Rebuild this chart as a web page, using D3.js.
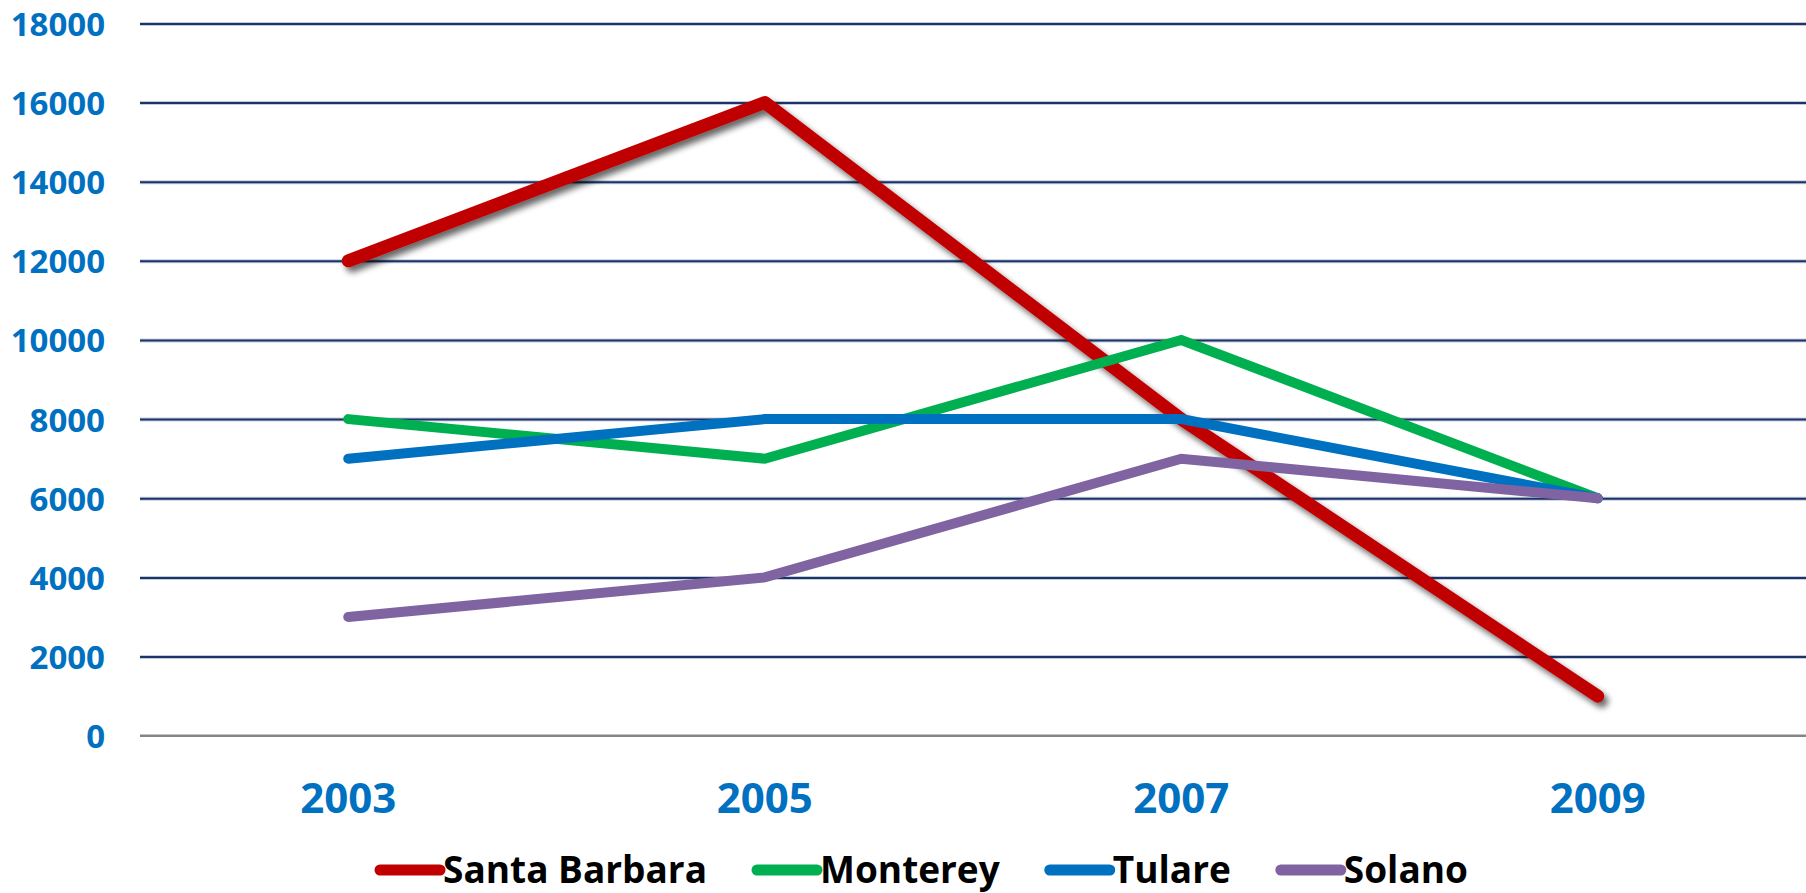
<!DOCTYPE html>
<html>
<head>
<meta charset="utf-8">
<script src="https://cdn.jsdelivr.net/npm/d3@7"></script>
<style>
  html, body { margin: 0; padding: 0; background: #fff; }
  svg { display: block; }
  text { font-family: "Open Sans", sans-serif; font-weight: 700; }
</style>
</head>
<body>
<svg id="chart" width="1806" height="893"></svg>
<script>
// ---- data ----
const years = ["2003", "2005", "2007", "2009"];
const seriesNames = ["Santa Barbara", "Monterey", "Tulare", "Solano"];
const santaBarbara = [12000, 16000, 8000, 1000];
const monterey = [8000, 7000, 10000, 6000];
const tulare = [7000, 8000, 8000, 6000];
const solano = [3000, 4000, 7000, 6000];
const yTicks = [0, 2000, 4000, 6000, 8000, 10000, 12000, 14000, 16000, 18000];
const seriesColors = ["#C00000", "#00B050", "#0070C0", "#8064A2"];

const seriesValues = [santaBarbara, monterey, tulare, solano];
const series = seriesNames.map((name, i) => ({ name, color: seriesColors[i], values: seriesValues[i], width: i === 0 ? 13 : 10 }));

// ---- layout ----
const svg = d3.select("#chart");
const plot = { left: 140, right: 1806, top: 23.4, bottom: 735.7 };

const x = d3.scaleBand().domain(years).range([plot.left, plot.right]).padding(0);
const y = d3.scaleLinear().domain([0, 18000]).range([plot.bottom, plot.top]);
const cx = d => x(d) + x.bandwidth() / 2;

// shadow filter
const defs = svg.append("defs");
const f = defs.append("filter").attr("id", "shadow").attr("x", "-10%").attr("y", "-10%").attr("width", "120%").attr("height", "130%");
f.append("feGaussianBlur").attr("in", "SourceAlpha").attr("stdDeviation", 3).attr("result", "b");
f.append("feOffset").attr("in", "b").attr("dx", 4).attr("dy", 5).attr("result", "o");
f.append("feComponentTransfer").attr("in", "o").attr("result", "oa")
  .append("feFuncA").attr("type", "linear").attr("slope", 0.6);
const m = f.append("feMerge");
m.append("feMergeNode").attr("in", "oa");
m.append("feMergeNode").attr("in", "SourceGraphic");

// gridlines (via axis)
const gridTicks = yTicks.filter(t => t !== 0);
const gridHalo = svg.append("g").attr("transform", `translate(${plot.left},0)`)
  .call(d3.axisRight(y).tickValues(gridTicks).tickSize(plot.right - plot.left).tickFormat(""));
gridHalo.select(".domain").remove();
gridHalo.selectAll("line").attr("stroke", "#C3CCDD").attr("stroke-width", 4);
const grid = svg.append("g").attr("transform", `translate(${plot.left},0)`)
  .call(d3.axisRight(y).tickValues(gridTicks).tickSize(plot.right - plot.left).tickFormat(""));
grid.select(".domain").remove();
grid.selectAll("line").attr("stroke", "#1B3366").attr("stroke-width", 2);

// zero line
svg.append("line")
  .attr("x1", plot.left).attr("x2", plot.right)
  .attr("y1", y(0)).attr("y2", y(0))
  .attr("stroke", "#858585").attr("stroke-width", 2.5);

// y axis labels
const yAxis = svg.append("g").attr("transform", `translate(${105},0)`)
  .call(d3.axisLeft(y).tickValues(yTicks).tickSize(0).tickPadding(0).tickFormat(d3.format("d")));
yAxis.select(".domain").remove();
yAxis.selectAll("text")
  .attr("fill", "#0070C0").attr("font-size", 33).attr("font-family", "Open Sans").attr("font-weight", 700)
  .attr("dy", "0.36em");

// x axis labels
const xAxis = svg.append("g").attr("transform", `translate(0,${798})`)
  .call(d3.axisBottom(x).tickSize(0).tickPadding(0));
xAxis.select(".domain").remove();
xAxis.selectAll("text")
  .attr("fill", "#0070C0").attr("font-size", 42).attr("font-family", "Open Sans").attr("font-weight", 700)
  .attr("dy", "0.36em").attr("y", 0);

// lines
const line = d3.line().x((d, i) => cx(years[i])).y(d => y(d));
svg.append("g").selectAll("path").data(series).join("path")
  .attr("d", d => line(d.values))
  .attr("fill", "none")
  .attr("stroke", d => d.color)
  .attr("stroke-width", d => d.width)
  .attr("stroke-linecap", "round")
  .attr("stroke-linejoin", (d, i) => i === 0 ? "round" : "miter")
  .attr("filter", (d, i) => i === 0 ? "url(#shadow)" : null);

// legend
const legend = svg.append("g");
const legendY = 870;
const swatchW = 60, gapText = 3, gapItem = 50;
let lx = 0;
const items = legend.selectAll("g").data(series).join("g");
items.append("line").attr("x1", 0).attr("x2", swatchW).attr("y1", 0).attr("y2", 0)
  .attr("stroke", d => d.color).attr("stroke-width", 11).attr("stroke-linecap", "round");
items.append("text").attr("x", swatchW + gapText).attr("y", 0).attr("dy", "0.34em")
  .attr("font-size", 37).attr("fill", "#000").text(d => d.name);
items.each(function() {
  const g = d3.select(this);
  const w = swatchW + gapText + g.select("text").node().getComputedTextLength();
  g.attr("transform", `translate(${lx},${legendY})`);
  lx += w + gapItem;
});
const totalW = lx - gapItem;
legend.attr("transform", `translate(${924 - totalW / 2},0)`);
</script>
</body>
</html>
